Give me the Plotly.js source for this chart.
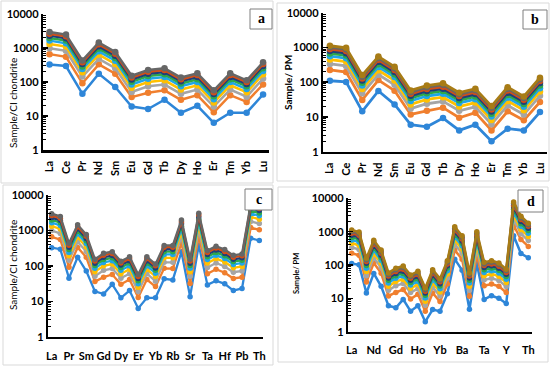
<!DOCTYPE html>
<html><head><meta charset="utf-8">
<script src="https://cdn.plot.ly/plotly-3.0.1.min.js"></script>
<style>html,body{margin:0;padding:0;background:#fff}#chart{width:550px;height:367px}</style>
</head><body><div id="chart"></div>
<script>
// ---------- categories & tick labels ----------
const catREE = ['La','Ce','Pr','Nd','Sm','Eu','Gd','Tb','Dy','Ho','Er','Tm','Yb','Lu'];
const catSpider = ['La','Ce','Pr','Nd','Sm','Eu','Gd','Tb','Dy','Ho','Er','Tm','Yb','Lu','Rb','Ba','Sr','Nb','Ta','Zr','Hf','Y','Pb','U','Th'];
const ticksC = ['La','Pr','Sm','Gd','Dy','Er','Yb','Rb','Sr','Ta','Hf','Pb','Th'];
const ticksD = ['La','Nd','Gd','Ho','Yb','Ba','Ta','Y','Th'];

// ---------- panel a : REE / CI chondrite (9 samples) ----------
const a1 = [325, 295, 45, 175, 71, 19, 16, 30, 12.5, 20, 6.3, 12.5, 12.5, 43];
const a2 = [660, 550, 92, 330, 175, 36, 48, 57, 30, 41, 12.8, 41, 26, 85];
const a3 = [990, 825, 144, 480, 255, 51, 75, 84, 45, 60, 19, 60, 37, 126];
const a4 = [1320, 1100, 192, 640, 340, 68, 100, 112, 60, 80, 25, 80, 50, 168];
const a5 = [1650, 1375, 240, 800, 425, 85, 125, 140, 75, 100, 31, 100, 62, 210];
const a6 = [1980, 1650, 288, 960, 510, 102, 150, 168, 90, 120, 38, 120, 75, 252];
const a7 = [2310, 1925, 336, 1120, 595, 119, 175, 196, 105, 140, 44, 140, 87, 294];
const a8 = [2640, 2200, 384, 1280, 680, 136, 200, 224, 120, 160, 50, 160, 100, 336];
const a9 = [2970, 2475, 432, 1440, 765, 153, 225, 252, 135, 180, 57, 180, 112, 378];

// ---------- panel b : REE / primitive mantle (10 samples) ----------
const b1 = [110, 102, 14.5, 56, 23, 6, 5.2, 9.3, 4.1, 6, 2, 4.6, 4.1, 13.8];
const b2 = [225, 196, 31, 115, 57, 11.8, 15, 18.5, 9.5, 13.3, 4.1, 14.5, 8, 27];
const b3 = [336, 294, 48, 165, 84, 17.4, 24, 28, 15, 19.5, 6.2, 21.6, 11.7, 40.5];
const b4 = [448, 392, 64, 220, 112, 23, 32, 37, 20, 26, 8.2, 29, 15.6, 54];
const b5 = [560, 490, 80, 275, 140, 29, 40, 46.5, 25, 32.5, 10.3, 36, 19.5, 67.5];
const b6 = [672, 588, 96, 330, 168, 35, 48, 56, 30, 39, 12.3, 43, 23.4, 81];
const b7 = [784, 686, 112, 385, 196, 40.6, 56, 65, 35, 45.5, 14.4, 50, 27.3, 94.5];
const b8 = [896, 784, 128, 440, 224, 46.4, 64, 74, 40, 52, 16.4, 58, 31.2, 108];
const b9 = [1008, 882, 144, 495, 252, 52, 72, 84, 45, 58.5, 18.5, 65, 35, 121.5];
const b10 = [1120, 980, 160, 550, 280, 58, 80, 93, 50, 65, 20.5, 72, 39, 135];

// ---------- panel c : trace elements / CI chondrite (Rb..Th part) ----------
const c1t = [40, 250, 13.5, 390, 29, 38, 31, 20, 23, 600, 520];
const c2t = [84, 440, 32, 680, 60, 80, 64, 44, 48, 1200, 1040];
const c3t = [126, 660, 51, 1020, 90, 120, 96, 66, 72, 1800, 1560];
const c4t = [168, 880, 68, 1360, 120, 160, 128, 88, 96, 2400, 2080];
const c5t = [210, 1100, 85, 1700, 150, 200, 160, 110, 120, 3000, 2600];
const c6t = [252, 1320, 102, 2040, 180, 240, 192, 132, 144, 3600, 3120];
const c7t = [294, 1540, 119, 2380, 210, 280, 224, 154, 168, 4200, 3640];
const c8t = [336, 1760, 136, 2720, 240, 320, 256, 176, 192, 4800, 4160];
const c9t = [378, 1980, 153, 3060, 270, 360, 288, 198, 216, 5400, 4680];

// ---------- panel d : trace elements / primitive mantle (Rb..Th part) ----------
const d1t = [150, 70, 4.7, 110, 9.3, 12, 10, 7, 750, 220, 165];
const d2t = [280, 150, 11.6, 200, 24, 27, 23, 15, 1560, 580, 360];
const d3t = [420, 225, 17.4, 300, 36, 40, 34.5, 22.5, 2340, 870, 540];
const d4t = [560, 300, 23, 400, 48, 54, 46, 30, 3120, 1160, 720];
const d5t = [700, 375, 29, 500, 60, 67.5, 57.5, 37.5, 3900, 1450, 900];
const d6t = [840, 450, 35, 600, 72, 81, 69, 45, 4680, 1740, 1080];
const d7t = [980, 525, 40.6, 700, 84, 94.5, 80.5, 52.5, 5460, 2030, 1260];
const d8t = [1120, 600, 46.4, 800, 96, 108, 92, 60, 6240, 2320, 1440];
const d9t = [1260, 675, 52, 900, 108, 121.5, 103.5, 67.5, 7020, 2610, 1620];
const d10t = [1400, 750, 58, 1000, 120, 135, 115, 75, 7800, 2900, 1800];

const aSeries = [a1,a2,a3,a4,a5,a6,a7,a8,a9];
const bSeries = [b1,b2,b3,b4,b5,b6,b7,b8,b9,b10];
const cTrace = [c1t,c2t,c3t,c4t,c5t,c6t,c7t,c8t,c9t];
const dTrace = [d1t,d2t,d3t,d4t,d5t,d6t,d7t,d8t,d9t,d10t];
const cSeries = aSeries.map((s,i)=>s.concat(cTrace[i]));
const dSeries = bSeries.map((s,i)=>s.concat(dTrace[i]));

const colors = ['#2E86D8','#F07F2E','#A5A5A5','#FFC000','#1FA6E8','#2EA84A','#1F3F7A','#D24E17','#666666','#A87C16'];

// ---------- layout helpers ----------
const W = 550, H = 367;
const FONT = 'Lato, "Liberation Sans", sans-serif';
const px = x => x / W;
const py = y => 1 - y / H;

const panels = [
  {s:'',  cats:catREE,    data:aSeries, x0:43.3,  x1:269.3, y0:14,    y1:150,   pad:0.38, tv:catREE, ang:-90, ms:6.5, lw:2.5, stand:4},
  {s:'2', cats:catREE,    data:bSeries, x0:323.3, x1:546.6, y0:12.7,  y1:151.7, pad:0.41, tv:catREE, ang:-90, ms:6.5, lw:2.8, stand:4},
  {s:'3', cats:catSpider, data:cSeries, x0:48.3,  x1:262.7, y0:195,   y1:336.7, pad:0.39, tv:ticksC, ang:0,   ms:5.5, lw:2.3, stand:8},
  {s:'4', cats:catSpider, data:dSeries, x0:348.3, x1:531.7, y0:198.3, y1:331.7, pad:0.46, tv:ticksD, ang:0,   ms:5.5, lw:2.5, stand:7}
];

const traces = [];
const layout = {
  width: W, height: H, margin:{l:0,r:0,t:0,b:0},
  paper_bgcolor:'#fff', plot_bgcolor:'rgba(0,0,0,0)',
  showlegend:false, font:{family:FONT, color:'#000'},
  shapes:[], annotations:[]
};

panels.forEach((p, pi) => {
  p.data.forEach((vals, k) => {
    traces.push({
      type:'scatter', mode:'lines+markers', x:p.cats, y:vals,
      xaxis:'x'+p.s, yaxis:'y'+p.s,
      line:{color:colors[k], width:p.lw},
      marker:{color:colors[k], size:p.ms},
      hoverinfo:'skip'
    });
  });
  const n = p.cats.length;
  const rng = [-p.pad, n - 1 + p.pad];
  layout['xaxis'+p.s] = {
    domain:[px(p.x0), px(p.x1)], anchor:'y'+p.s, type:'category',
    categoryorder:'array', categoryarray:p.cats, range:rng,
    tickmode:'array', tickvals:p.tv, ticktext:p.tv, ticks:'',
    tickangle:p.ang, ticklabelstandoff:p.stand,
    tickfont:{family:FONT, size:11, color:'#000', weight:'bold'},
    showline:true, linewidth:2.5, linecolor:'#000', showgrid:false, zeroline:false, fixedrange:true
  };
  const ov = 5 + pi;
  layout['xaxis'+ov] = {
    overlaying:'x'+p.s, anchor:'y'+p.s, type:'linear', range:rng,
    tick0:0, dtick:0.5, ticks:'inside', ticklen:3, tickwidth:1.2, tickcolor:'#000',
    showticklabels:false, showline:false, showgrid:false, zeroline:false, fixedrange:true
  };
  layout['yaxis'+p.s] = {
    domain:[py(p.y1), py(p.y0)], anchor:'x'+p.s, type:'log', range:[0,4],
    tickmode:'linear', tick0:0, dtick:1, tickformat:'d',
    ticks:'inside', ticklen:5, tickwidth:1.5, tickcolor:'#000',
    minor:{ticks:'inside', ticklen:3, tickwidth:1, tickcolor:'#000', dtick:'D1', showgrid:false},
    tickfont:{family:FONT, size:11, color:'#000', weight:'bold'},
    showline:true, linewidth:2.5, linecolor:'#000', showgrid:false, zeroline:false, fixedrange:true
  };
});

// panel borders
[[1,1,273,183],[277,3,549,181],[3,185,273,365],[278,187,548,362]].forEach(b => {
  layout.shapes.push({type:'rect', xref:'paper', yref:'paper', x0:px(b[0]), x1:px(b[2]), y0:py(b[3]), y1:py(b[1]),
    line:{color:'#D9D9D9', width:1}, fillcolor:'rgba(0,0,0,0)', layer:'below'});
});
// letter boxes
const letters = [['a',250,9,272,29],['b',523,10,547,29],['c',245,189,272,210],['d',518,190,543,212]];
letters.forEach(l => {
  layout.shapes.push({type:'rect', xref:'paper', yref:'paper', x0:px(l[1]), x1:px(l[3]), y0:py(l[4]), y1:py(l[2]),
    line:{color:'#7F7F7F', width:1}, fillcolor:'#fff', layer:'above'});
  layout.annotations.push({xref:'paper', yref:'paper', x:px((l[1]+l[3])/2), y:py((l[2]+l[4])/2),
    text:l[0], showarrow:false, xanchor:'center', yanchor:'middle',
    font:{family:'"Liberation Serif", "DejaVu Serif", serif', size:14, color:'#000', weight:'bold'}});
});
// y-axis titles
const ytitles = [
  ['Sample/CI chondrite', 13, 103, 10, 'normal'],
  ['Sample/ PM', 288, 83, 10, 'bold'],
  ['Sample/CI chondrite', 13, 265, 10, 'normal'],
  ['Sample/ PM', 296, 274, 7.5, 'bold']
];
ytitles.forEach(t => {
  layout.annotations.push({xref:'paper', yref:'paper', x:px(t[1]), y:py(t[2]), text:t[0],
    showarrow:false, textangle:-90, xanchor:'center', yanchor:'middle',
    font:{family:FONT, size:t[3], color:'#000', weight:t[4]}});
});

Plotly.newPlot('chart', traces, layout, {staticPlot:true, displayModeBar:false});
</script></body></html>
